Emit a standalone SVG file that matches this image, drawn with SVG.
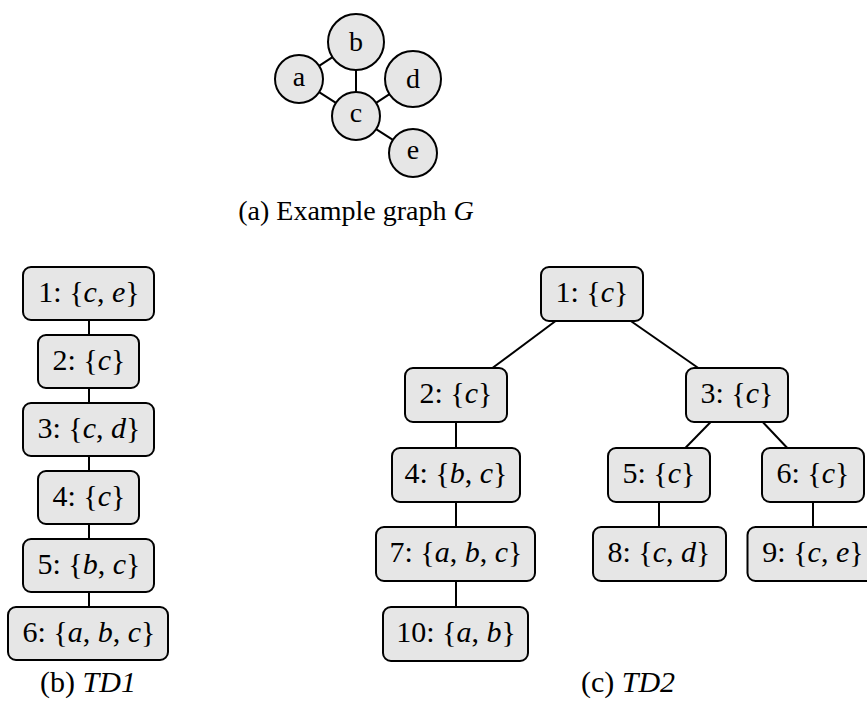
<svg xmlns="http://www.w3.org/2000/svg" width="867" height="706" viewBox="0 0 867 706">
  <style>
    .node { fill: #e6e6e6; stroke: #000; stroke-width: 2; }
    .edge { stroke: #000; stroke-width: 2; fill: none; }
    text { font-family: "Liberation Serif", "Times New Roman", serif; font-size: 28px; fill: #000; }
    .lbl { text-anchor: middle; }
    .bag { font-size: 30px; }
    .cap { font-size: 30px; }
    .m { font-style: italic; }
  </style>

  <!-- (a) example graph G -->
  <g id="graph-edges" class="edge">
    <line x1="319.1" y1="65.9" x2="332.5" y2="57.2"/>
    <line x1="319.1" y1="92.1" x2="335.9" y2="102.9"/>
    <line x1="356" y1="70" x2="356" y2="92"/>
    <line x1="376.1" y1="102.9" x2="389.5" y2="94.2"/>
    <line x1="376.1" y1="129.1" x2="392.9" y2="139.9"/>
  </g>
  <g id="g-a"><circle class="node" cx="299" cy="79" r="24"/><text class="lbl" x="299" y="86" font-size="29">a</text></g>
  <g id="g-b"><circle class="node" cx="356" cy="42" r="28"/><text class="lbl" x="356" y="51" font-size="29">b</text></g>
  <g id="g-c"><circle class="node" cx="356" cy="116" r="24"/><text class="lbl" x="356" y="122" font-size="29">c</text></g>
  <g id="g-d"><circle class="node" cx="413" cy="79" r="28"/><text class="lbl" x="413" y="88" font-size="29">d</text></g>
  <g id="g-e"><circle class="node" cx="413" cy="153" r="24"/><text class="lbl" x="413" y="159" font-size="29">e</text></g>
  <text class="lbl" x="356" y="220">(a) Example graph <tspan class="m">G</tspan></text>

  <!-- (b) tree decomposition TD1 -->
  <g id="td1-edges" class="edge">
    <line x1="89" y1="320" x2="89" y2="335"/>
    <line x1="89" y1="388" x2="89" y2="403"/>
    <line x1="89" y1="456" x2="89" y2="471"/>
    <line x1="89" y1="524" x2="89" y2="539"/>
    <line x1="89" y1="592" x2="89" y2="607"/>
  </g>
  <g id="td1-1"><rect class="node" x="23" y="267" width="131" height="53" rx="8"/><text class="lbl bag" x="89" y="302">1: {<tspan class="m">c</tspan>, <tspan class="m">e</tspan>}</text></g>
  <g id="td1-2"><rect class="node" x="38" y="335" width="101" height="53" rx="8"/><text class="lbl bag" x="89" y="370">2: {<tspan class="m">c</tspan>}</text></g>
  <g id="td1-3"><rect class="node" x="23" y="403" width="131" height="53" rx="8"/><text class="lbl bag" x="89" y="438">3: {<tspan class="m">c</tspan>, <tspan class="m">d</tspan>}</text></g>
  <g id="td1-4"><rect class="node" x="38" y="471" width="101" height="53" rx="8"/><text class="lbl bag" x="89" y="506">4: {<tspan class="m">c</tspan>}</text></g>
  <g id="td1-5"><rect class="node" x="23" y="539" width="131" height="53" rx="8"/><text class="lbl bag" x="89" y="574">5: {<tspan class="m">b</tspan>, <tspan class="m">c</tspan>}</text></g>
  <g id="td1-6"><rect class="node" x="8" y="607" width="160" height="53" rx="8"/><text class="lbl bag" x="89" y="642">6: {<tspan class="m">a</tspan>, <tspan class="m">b</tspan>, <tspan class="m">c</tspan>}</text></g>
  <text class="lbl cap" x="88" y="692">(b) <tspan class="m">TD1</tspan></text>

  <!-- (c) tree decomposition TD2 -->
  <g id="td2-edges" class="edge">
    <line x1="555.6" y1="321" x2="492.4" y2="368"/>
    <line x1="630.8" y1="321" x2="698.3" y2="368"/>
    <line x1="456" y1="422" x2="456" y2="448"/>
    <line x1="456" y1="502" x2="456" y2="527"/>
    <line x1="456" y1="581" x2="456" y2="607"/>
    <line x1="710.7" y1="422" x2="685.3" y2="448"/>
    <line x1="762.7" y1="422" x2="787.3" y2="448"/>
    <line x1="659" y1="502" x2="659" y2="527"/>
    <line x1="813" y1="502" x2="813" y2="527"/>
  </g>
  <g id="td2-1"><rect class="node" x="541" y="267" width="102" height="54" rx="8"/><text class="lbl bag" x="592" y="302">1: {<tspan class="m">c</tspan>}</text></g>
  <g id="td2-2"><rect class="node" x="405" y="368" width="102" height="54" rx="8"/><text class="lbl bag" x="456" y="403">2: {<tspan class="m">c</tspan>}</text></g>
  <g id="td2-3"><rect class="node" x="686" y="368" width="102" height="54" rx="8"/><text class="lbl bag" x="737" y="403">3: {<tspan class="m">c</tspan>}</text></g>
  <g id="td2-4"><rect class="node" x="392" y="448" width="128" height="54" rx="8"/><text class="lbl bag" x="456" y="483">4: {<tspan class="m">b</tspan>, <tspan class="m">c</tspan>}</text></g>
  <g id="td2-5"><rect class="node" x="608" y="448" width="102" height="54" rx="8"/><text class="lbl bag" x="659" y="483">5: {<tspan class="m">c</tspan>}</text></g>
  <g id="td2-6"><rect class="node" x="762" y="448" width="102" height="54" rx="8"/><text class="lbl bag" x="813" y="483">6: {<tspan class="m">c</tspan>}</text></g>
  <g id="td2-7"><rect class="node" x="376" y="527" width="159" height="54" rx="8"/><text class="lbl bag" x="456" y="562">7: {<tspan class="m">a</tspan>, <tspan class="m">b</tspan>, <tspan class="m">c</tspan>}</text></g>
  <g id="td2-8"><rect class="node" x="593" y="527" width="133" height="54" rx="8"/><text class="lbl bag" x="659" y="562">8: {<tspan class="m">c</tspan>, <tspan class="m">d</tspan>}</text></g>
  <g id="td2-9"><rect class="node" x="747.5" y="527" width="131" height="54" rx="8"/><text class="lbl bag" x="813" y="562">9: {<tspan class="m">c</tspan>, <tspan class="m">e</tspan>}</text></g>
  <g id="td2-10"><rect class="node" x="383" y="607" width="145" height="54" rx="8"/><text class="lbl bag" x="456" y="642">10: {<tspan class="m">a</tspan>, <tspan class="m">b</tspan>}</text></g>
  <text class="lbl cap" x="628" y="692">(c) <tspan class="m">TD2</tspan></text>
</svg>
